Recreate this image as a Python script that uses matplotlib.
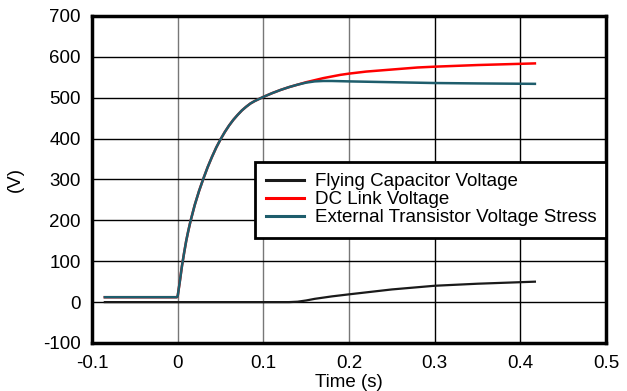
import matplotlib
matplotlib.use("Agg")
import matplotlib.pyplot as plt

plt.rcParams["font.family"] = ["Liberation Sans", "DejaVu Sans"]
plt.rcParams["axes.unicode_minus"] = False

# data (time in s, voltage in V)
t_rise = [-0.085, -0.001, 0.0, 0.0025, 0.005, 0.0075, 0.01, 0.0125, 0.015, 0.0175,
          0.02, 0.025, 0.03, 0.035, 0.04, 0.045, 0.05, 0.055, 0.06, 0.065, 0.07,
          0.075, 0.08, 0.085, 0.09, 0.095, 0.1, 0.11, 0.12, 0.13, 0.14]
v_rise = [12, 12, 14, 50, 88, 120, 150, 175, 198, 218,
          238, 272, 302, 330, 355, 378, 398, 416, 432, 446, 458,
          469, 478, 486, 492, 497, 502, 511, 519, 526, 532]

t_dc_tail = [0.15, 0.16, 0.17, 0.18, 0.19, 0.2, 0.22, 0.25, 0.28, 0.3, 0.35, 0.417]
v_dc_tail = [538, 543, 548, 552, 556, 559, 564, 569, 574, 576, 580, 584]

t_ext_tail = [0.15, 0.16, 0.17, 0.18, 0.2, 0.25, 0.3, 0.35, 0.417]
v_ext_tail = [537, 540, 541, 541, 540, 538, 536, 535, 534]

t_fly = [-0.085, 0.1, 0.13, 0.14, 0.15, 0.16, 0.17, 0.18, 0.2, 0.25, 0.3, 0.35, 0.417]
v_fly = [0, 0, 0, 1, 4, 8, 11, 14, 19, 31, 40, 45, 50]

labels = ["Flying Capacitor Voltage", "DC Link Voltage",
          "External Transistor Voltage Stress"]
colors = ["#1a1a1a", "#ff0000", "#1e5d6c"]

x_ticks = [-0.1, 0, 0.1, 0.2, 0.3, 0.4, 0.5]
x_tick_labels = ["-0.1", "0", "0.1", "0.2", "0.3", "0.4", "0.5"]
y_ticks = [-100, 0, 100, 200, 300, 400, 500, 600, 700]

fig = plt.figure(figsize=(6.27, 3.91), dpi=100)
ax = fig.add_axes([0.1467, 0.1228, 0.8198, 0.8363])

# grid: the first vertical lines are grey, the rest black
vgrid_colors = ["#777777", "#777777", "#777777", "#000000", "#000000"]
for x, c in zip(x_ticks[1:-1], vgrid_colors):
    ax.axvline(x, color=c, lw=1.0, zorder=1)
for y in y_ticks[1:-1]:
    ax.axhline(y, color="black", lw=1.0, zorder=1)

ax.plot(t_rise + t_dc_tail, v_rise + v_dc_tail, color=colors[1], lw=1.8,
        label=labels[1], zorder=3)
ax.plot(t_rise + t_ext_tail, v_rise + v_ext_tail, color=colors[2], lw=1.8,
        label=labels[2], zorder=4)
ax.plot(t_fly, v_fly, color=colors[0], lw=1.6, label=labels[0], zorder=5)

ax.set_xlim(-0.1, 0.5)
ax.set_ylim(-100, 700)
ax.set_xticks(x_ticks)
ax.set_xticklabels(x_tick_labels)
ax.set_yticks(y_ticks)
ax.tick_params(length=0, labelsize=13.5)
ax.tick_params(axis="x", pad=9)
ax.tick_params(axis="y", pad=8)
for s in ax.spines.values():
    s.set_linewidth(2.5)

ax.set_xlabel("Time (s)", fontsize=13.5, labelpad=1)
ax.set_ylabel("(V)", fontsize=13.5, labelpad=14)

handles, lbls = ax.get_legend_handles_labels()
order = [2, 0, 1]
leg = ax.legend([handles[i] for i in order], [lbls[i] for i in order],
                loc="upper left", bbox_to_anchor=(0.317, 0.315, 0.683, 0.2385),
                mode="expand", fontsize=13.5, frameon=True, fancybox=False,
                edgecolor="black", framealpha=1, borderpad=0.6,
                labelspacing=0.05, handlelength=2.0, handletextpad=0.6,
                borderaxespad=0)
leg.get_frame().set_linewidth(2.0)
leg.set_zorder(10)
for h in leg.get_lines():
    h.set_linewidth(2.2)

fig.savefig("out.png", dpi=100)
